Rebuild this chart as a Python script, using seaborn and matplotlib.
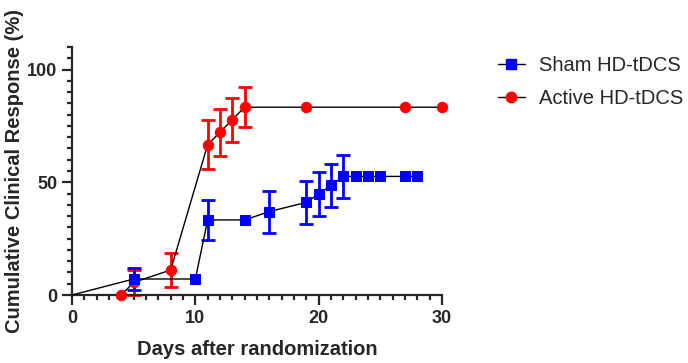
import numpy as np
import pandas as pd
import seaborn as sns
import matplotlib.pyplot as plt
from matplotlib.lines import Line2D
from matplotlib.ticker import MultipleLocator

# 데이터
sham_day = [0, 5, 10, 11, 14, 16, 19, 20, 21, 22, 23, 24, 25, 27, 28]
sham_resp = [0, 7.1, 7.1, 33.3, 33.3, 37.0, 41.1, 44.8, 48.6, 52.6, 52.6, 52.6, 52.6, 52.6, 52.6]
sham_err = [0, 4.8, 0, 9.0, 0, 9.3, 9.4, 9.6, 9.6, 9.6, 0, 0, 0, 0, 0]

active_day = [4, 5, 8, 11, 12, 13, 14, 19, 27, 30]
active_resp = [0, 5.6, 11.1, 66.7, 72.2, 77.8, 83.3, 83.3, 83.3, 83.3]
active_err = [0, 5.4, 7.4, 11.0, 10.5, 9.8, 8.8, 0, 0, 0]

sns.set_style("ticks")
plt.rcParams['font.family'] = ['Liberation Sans', 'DejaVu Sans']

sham = pd.DataFrame({"day": sham_day, "resp": sham_resp, "err": sham_err})
active = pd.DataFrame({"day": active_day, "resp": active_resp, "err": active_err})

fig = plt.figure(figsize=(6.88, 3.63), dpi=100)
ax = fig.add_axes([0.1047, 0.1873, 0.5377, 0.6832])

# active 먼저, sham 이 위에 그려짐 / sham 원점(0,0)은 마커 없음
for df, col, mk, every in [(active, "#ff0000", "o", None),
                           (sham, "#0000ff", "s", list(range(1, len(sham_day))))]:
    e = df[df.err > 0]
    ax.errorbar(e.day, e.resp, yerr=e.err, fmt="none", ecolor=col,
                elinewidth=2, capsize=5, capthick=2, clip_on=False, zorder=2)
    sns.lineplot(data=df, x="day", y="resp", ax=ax, color="black", lw=1,
                 marker=mk, markersize=7.5 if mk == "o" else 7, markevery=every,
                 markerfacecolor=col, markeredgecolor=col,
                 clip_on=False, zorder=3, legend=False)

ax.set_xlim(0, 30)
ax.set_ylim(0, 110)
ax.set_xticks([0, 10, 20, 30])
ax.set_yticks([0, 50, 100])
ax.xaxis.set_minor_locator(MultipleLocator(1))
ax.yaxis.set_minor_locator(MultipleLocator(5))
sns.despine(ax=ax)
for s in ["left", "bottom"]:
    ax.spines[s].set_linewidth(1.6)
ax.tick_params(which="major", length=7, width=1.6, labelsize=13)
ax.tick_params(which="minor", length=3.5, width=1.6)
for lab in ax.get_xticklabels() + ax.get_yticklabels():
    lab.set_fontweight("bold")

ax.set_xlabel("Days after randomization", fontsize=14.5, fontweight="bold", labelpad=10)
ax.set_ylabel("Cumulative Clinical Response (%)", fontsize=14.5, fontweight="bold", labelpad=2)

handles = [
    Line2D([], [], color="black", lw=1, marker="s", markersize=7,
           markerfacecolor="#0000ff", markeredgecolor="#0000ff"),
    Line2D([], [], color="black", lw=1, marker="o", markersize=7.5,
           markerfacecolor="#ff0000", markeredgecolor="#ff0000"),
]
fig.legend(handles, ["Sham HD-tDCS", "Active HD-tDCS"], loc="upper left",
           bbox_to_anchor=(0.697, 0.895), frameon=False, fontsize=14.5,
           handlelength=1.35, handletextpad=0.7, labelspacing=0.68)

fig.savefig("out.png", dpi=100)
